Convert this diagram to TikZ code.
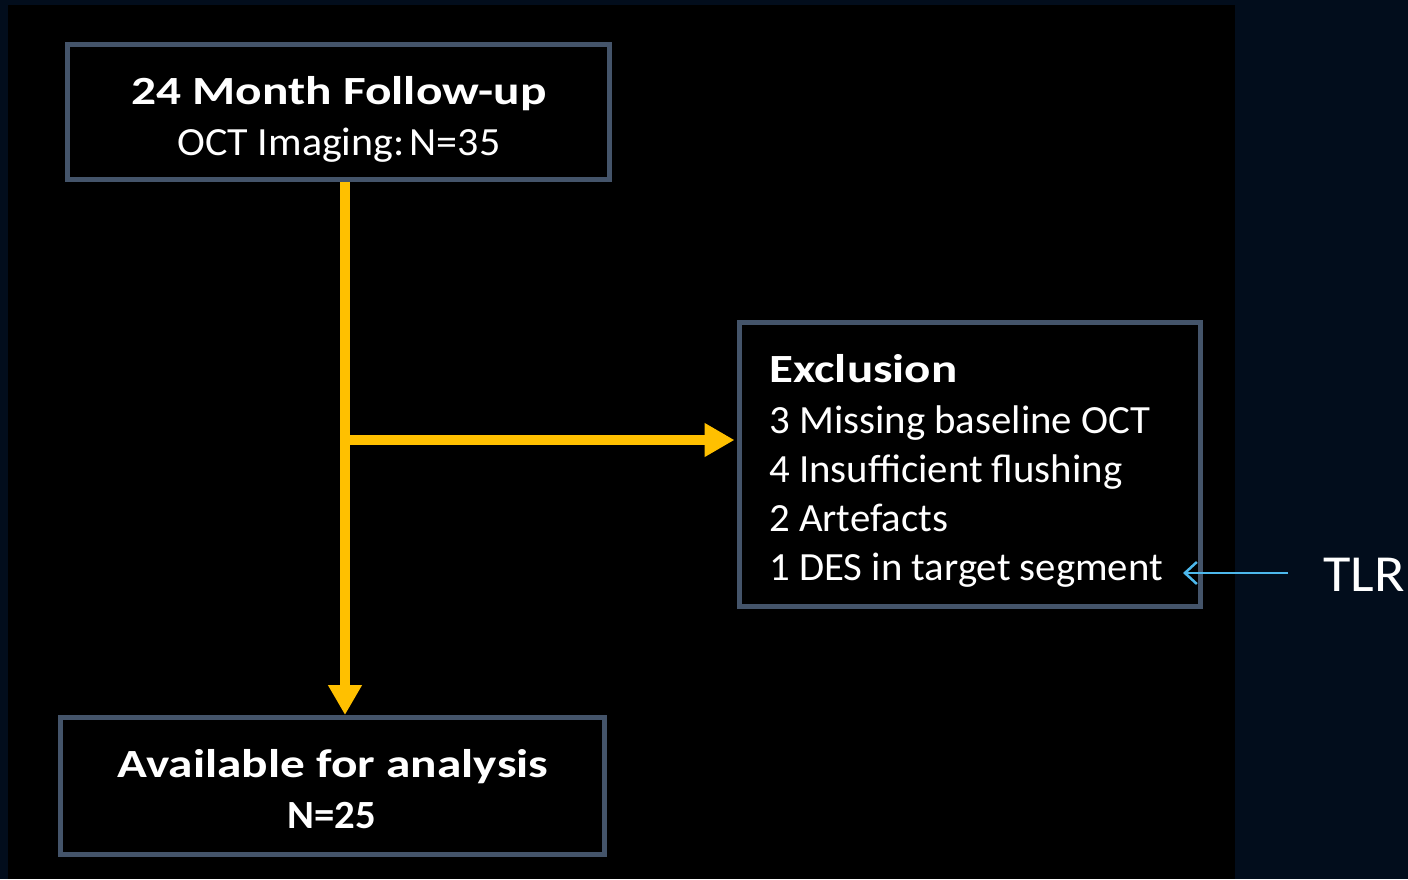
\documentclass[tikz,border=0pt]{standalone}
\usepackage{graphicx}
\usepackage{fontspec}
\setmainfont{Carlito}
\usetikzlibrary{arrows.meta}
\definecolor{navybg}{HTML}{020D1C}
\definecolor{boxborder}{HTML}{44546A}
\definecolor{gold}{HTML}{FFC000}
\definecolor{lightblue}{HTML}{4DB8EC}
\tikzset{
  flowbox/.style={draw=boxborder, line width=5pt, fill=black, inner sep=0pt},
  flowarrow/.style={draw=gold, line width=10pt, -{Triangle[width=32pt,length=30pt]}},
  wtext/.style={text=white, inner sep=0pt, anchor=base},
  headfont/.style={font=\fontsize{40}{48}\selectfont\bfseries},
  bodyfont/.style={font=\fontsize{40}{48}\selectfont},
  tlrarrow/.style={draw=lightblue, line width=2.5pt, -{Straight Barb[width=22pt,length=12pt,line width=2.5pt]}}
}
\begin{document}
\begin{tikzpicture}[x=1pt,y=-1pt]
\useasboundingbox (0,0) rectangle (1408,879);
\fill[navybg] (0,0) rectangle (1408,879);
\fill[black] (8,5) rectangle (1235,879);
% boxes
\node[flowbox, minimum width=542pt, minimum height=135pt] (top) at (338.5,112) {};
\node[flowbox, minimum width=461pt, minimum height=284pt] (excl) at (970,464.5) {};
\node[flowbox, minimum width=544pt, minimum height=137pt] (avail) at (332.5,786) {};
% texts
\node[wtext, headfont] (t1) at (339,104) {\scalebox{1.234}[1]{24 Month Follow-up}};
\node[wtext, bodyfont] (t2) at (339,155) {\scalebox{1.05}[1]{OCT Imaging:\hspace{0.12em}N=35}};
\node[wtext, anchor=base west, headfont] (e0) at (769,382) {\scalebox{1.224}[1]{Exclusion}};
\node[wtext, anchor=base west, bodyfont] (e1) at (769,433) {\scalebox{1.02}[1]{3 Missing baseline OCT}};
\node[wtext, anchor=base west, bodyfont] (e2) at (769,482) {\scalebox{1.02}[1]{4 Insufficient flushing}};
\node[wtext, anchor=base west, bodyfont] (e3) at (769,531) {\scalebox{1.02}[1]{2 Artefacts}};
\node[wtext, anchor=base west, bodyfont] (e4) at (769,580) {\scalebox{1.02}[1]{1 DES in target segment}};
\node[wtext, headfont] (a1) at (333,777) {\scalebox{1.233}[1]{Available for analysis}};
\node[wtext, headfont] (a2) at (332,828) {\scalebox{1.02}[1]{N=25}};
\node[wtext, anchor=base west, font=\fontsize{52}{60}\selectfont] (tlr) at (1323,591) {\scalebox{1.08}[1]{TLR}};
% connectors
\coordinate (junc) at (345,440);
\draw[draw=gold, line width=10pt] (top.south -| junc) -- (junc);
\draw[flowarrow] (junc) -- (avail.north -| junc);
\draw[flowarrow] ([xshift=-5pt]junc) -- ([xshift=-2.5pt]excl.west |- junc);
\coordinate (tlrtip) at (1183,573);
\draw[tlrarrow] ([xshift=-35pt]tlr.west |- tlrtip) -- (tlrtip);
\end{tikzpicture}
\end{document}
